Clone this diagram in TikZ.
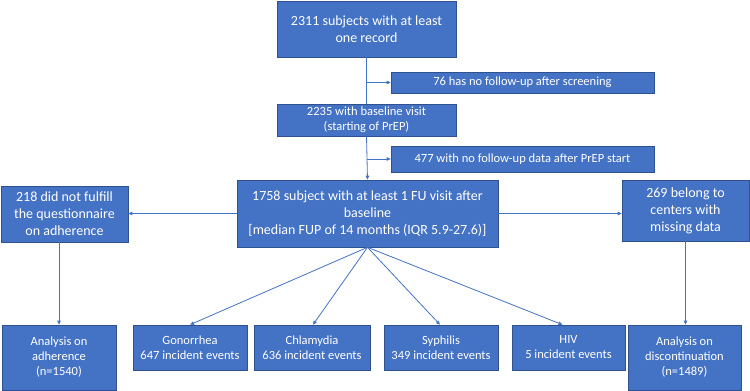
\documentclass[tikz,border=0pt]{standalone}
\usepackage{fontspec}
\setmainfont{Carlito}
\usetikzlibrary{arrows.meta}
\definecolor{boxblue}{HTML}{4472C4}
\definecolor{boxedge}{HTML}{2F528F}
\begin{document}
\begin{tikzpicture}[x=1pt,y=-1pt,
  box/.style={draw=boxedge, fill=boxblue, text=white, align=center, inner sep=0pt, line width=0.6pt},
  big/.style={font=\fontsize{14}{17}\selectfont},
  small/.style={font=\fontsize{12.5}{15}\selectfont},
  conn/.style={draw=boxblue, line width=0.8pt},
  arr/.style={conn, -{Triangle[length=4pt,width=3.5pt]}}]
\useasboundingbox (0,0) rectangle (750,391);
\node[box,big,minimum width=179pt,minimum height=56pt] (top) at (366.5,29) {2311 subjects with at least\\one record};
\node[box,small,minimum width=263pt,minimum height=21pt] (s76) at (522.5,82.5) {76 has no follow-up after screening};
\node[box,small,minimum width=179pt,minimum height=32pt] (b2235) at (366.5,120) {2235 with baseline visit\\(starting of PrEP)};
\node[box,small,minimum width=263pt,minimum height=26pt] (s477) at (522.5,159) {477 with no follow-up data after PrEP start};
\node[box,big,minimum width=261pt,minimum height=67pt] (ctr) at (367.5,213.5) {1758 subject with at least 1 FU visit after\\baseline\\ {[median FUP of 14 months (IQR 5.9-27.6)]}};
\node[box,big,minimum width=127pt,minimum height=56pt] (n218) at (64.5,214) {218 did not fulfill\\the questionnaire\\on adherence};
\node[box,big,minimum width=127pt,minimum height=61pt] (n269) at (685.5,210.5) {269 belong to\\centers with\\missing data};
\node[box,small,minimum width=114pt,minimum height=65pt] (adh) at (59,357.5) {Analysis on\\adherence\\(n=1540)};
\node[box,small,minimum width=114pt,minimum height=45pt] (gon) at (190,347.5) {Gonorrhea\\647 incident events};
\node[box,small,minimum width=116pt,minimum height=45pt] (chl) at (312,347.5) {Chlamydia\\636 incident events};
\node[box,small,minimum width=114pt,minimum height=45pt] (syp) at (441,347.5) {Syphilis\\349 incident events};
\node[box,small,minimum width=113pt,minimum height=45pt] (hiv) at (568.5,347.5) {HIV\\5 incident events};
\node[box,small,minimum width=113pt,minimum height=65pt] (dis) at (684.5,357.5) {Analysis on\\discontinuation\\(n=1489)};
\draw[conn] (top.south) -- (b2235.north);
\coordinate (j1) at (366.5,82.5);
\draw[arr] (j1) -- (s76.west);
\draw[arr] (b2235.south) -- (ctr.north);
\coordinate (j2) at (366.5,159);
\draw[arr] (j2) -- (s477.west);
\draw[arr] (ctr.west) -- (n218.east |- ctr.west);
\draw[arr] (ctr.east) -- (n269.west |- ctr.east);
\draw[arr] (n218.south -| adh.north) -- (adh.north);
\draw[arr] (n269.south) -- (n269.south |- dis.north);
\coordinate (fan) at (ctr.south);
\draw[arr] (fan) -- (gon.north);
\draw[arr] (fan) -- ([xshift=1pt]chl.north);
\draw[arr] (fan) -- ([xshift=-1pt]syp.north);
\draw[arr] (fan) -- ([xshift=-6pt]hiv.north);
\end{tikzpicture}
\end{document}
